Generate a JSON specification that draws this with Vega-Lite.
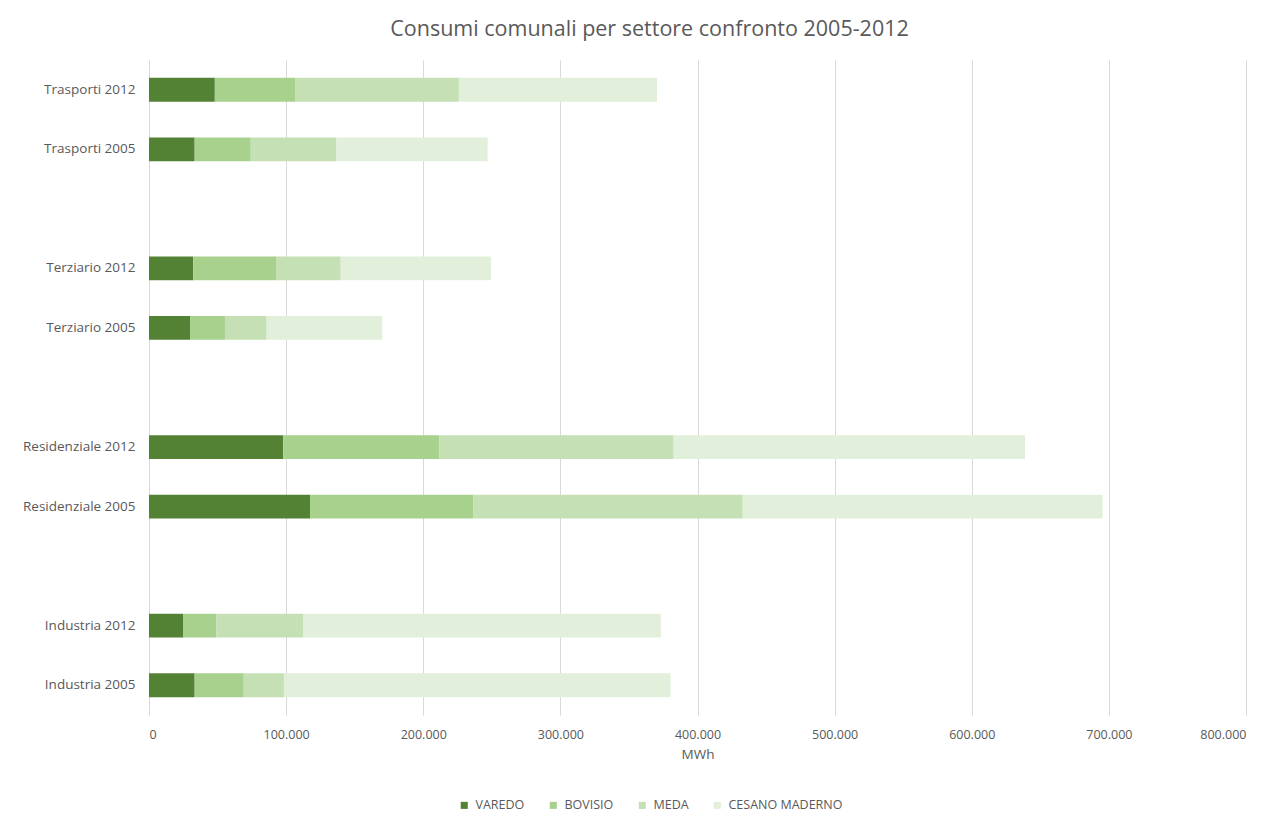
{
  "$schema": "https://vega.github.io/schema/vega-lite/v6.json",
  "width": 1097,
  "height": 655,
  "autosize": {"type": "none"},
  "padding": {"left": 149, "top": 60, "right": 30, "bottom": 99},
  "background": "white",
  "title": {
    "text": "Consumi comunali per settore confronto 2005-2012",
    "anchor": "middle",
    "frame": "group",
    "dx": -48,
    "offset": 20,
    "font": "Open Sans",
    "fontSize": 21.5,
    "fontWeight": "normal",
    "color": "#595959"
  },
  "config": {
    "view": {"stroke": null}
  },
  "data": {
    "values": [
      {"cat": "Trasporti 2012", "comune": "VAREDO", "ord": 1, "mwh": 48000},
      {"cat": "Trasporti 2012", "comune": "BOVISIO", "ord": 2, "mwh": 58500},
      {"cat": "Trasporti 2012", "comune": "MEDA", "ord": 3, "mwh": 119500},
      {"cat": "Trasporti 2012", "comune": "CESANO MADERNO", "ord": 4, "mwh": 144500},
      {"cat": "Trasporti 2005", "comune": "VAREDO", "ord": 1, "mwh": 33300},
      {"cat": "Trasporti 2005", "comune": "BOVISIO", "ord": 2, "mwh": 40900},
      {"cat": "Trasporti 2005", "comune": "MEDA", "ord": 3, "mwh": 62300},
      {"cat": "Trasporti 2005", "comune": "CESANO MADERNO", "ord": 4, "mwh": 110500},
      {"cat": "Terziario 2012", "comune": "VAREDO", "ord": 1, "mwh": 32300},
      {"cat": "Terziario 2012", "comune": "BOVISIO", "ord": 2, "mwh": 60800},
      {"cat": "Terziario 2012", "comune": "MEDA", "ord": 3, "mwh": 46700},
      {"cat": "Terziario 2012", "comune": "CESANO MADERNO", "ord": 4, "mwh": 109600},
      {"cat": "Terziario 2005", "comune": "VAREDO", "ord": 1, "mwh": 29900},
      {"cat": "Terziario 2005", "comune": "BOVISIO", "ord": 2, "mwh": 25500},
      {"cat": "Terziario 2005", "comune": "MEDA", "ord": 3, "mwh": 30400},
      {"cat": "Terziario 2005", "comune": "CESANO MADERNO", "ord": 4, "mwh": 84300},
      {"cat": "Residenziale 2012", "comune": "VAREDO", "ord": 1, "mwh": 97900},
      {"cat": "Residenziale 2012", "comune": "BOVISIO", "ord": 2, "mwh": 113900},
      {"cat": "Residenziale 2012", "comune": "MEDA", "ord": 3, "mwh": 170800},
      {"cat": "Residenziale 2012", "comune": "CESANO MADERNO", "ord": 4, "mwh": 256200},
      {"cat": "Residenziale 2005", "comune": "VAREDO", "ord": 1, "mwh": 117400},
      {"cat": "Residenziale 2005", "comune": "BOVISIO", "ord": 2, "mwh": 119300},
      {"cat": "Residenziale 2005", "comune": "MEDA", "ord": 3, "mwh": 196300},
      {"cat": "Residenziale 2005", "comune": "CESANO MADERNO", "ord": 4, "mwh": 262400},
      {"cat": "Industria 2012", "comune": "VAREDO", "ord": 1, "mwh": 24800},
      {"cat": "Industria 2012", "comune": "BOVISIO", "ord": 2, "mwh": 24400},
      {"cat": "Industria 2012", "comune": "MEDA", "ord": 3, "mwh": 63500},
      {"cat": "Industria 2012", "comune": "CESANO MADERNO", "ord": 4, "mwh": 260500},
      {"cat": "Industria 2005", "comune": "VAREDO", "ord": 1, "mwh": 33300},
      {"cat": "Industria 2005", "comune": "BOVISIO", "ord": 2, "mwh": 35800},
      {"cat": "Industria 2005", "comune": "MEDA", "ord": 3, "mwh": 29300},
      {"cat": "Industria 2005", "comune": "CESANO MADERNO", "ord": 4, "mwh": 281900}
    ]
  },
  "mark": {"type": "bar"},
  "encoding": {
    "y": {
      "field": "cat",
      "type": "nominal",
      "scale": {
        "domain": ["Trasporti 2012", "Trasporti 2005", "gap1", "Terziario 2012", "Terziario 2005", "gap2", "Residenziale 2012", "Residenziale 2005", "gap3", "Industria 2012", "Industria 2005"],
        "paddingInner": 0.6,
        "paddingOuter": 0.3
      },
      "axis": {
        "title": null,
        "domain": false,
        "ticks": false,
        "grid": false,
        "labelExpr": "indexof(datum.label, 'gap') == 0 ? '' : datum.label",
        "labelFont": "Open Sans",
        "labelFontSize": 13.5,
        "labelColor": "#595959",
        "labelPadding": 14
      }
    },
    "x": {
      "field": "mwh",
      "type": "quantitative",
      "stack": "zero",
      "scale": {"domain": [0, 800000], "nice": false},
      "axis": {
        "title": "MWh",
        "titleFont": "Open Sans",
        "titleFontSize": 13.5,
        "titleFontWeight": "normal",
        "titleColor": "#595959",
        "titlePadding": 7,
        "values": [0, 100000, 200000, 300000, 400000, 500000, 600000, 700000, 800000],
        "labelExpr": "replace(format(datum.value, ','), ',', '.')",
        "domain": false,
        "ticks": false,
        "grid": true,
        "gridColor": "#d9d9d9",
        "gridWidth": 1,
        "labelFont": "Open Sans",
        "labelFontSize": 12.5,
        "labelColor": "#595959",
        "labelPadding": 13
      }
    },
    "color": {
      "field": "comune",
      "type": "nominal",
      "scale": {
        "domain": ["VAREDO", "BOVISIO", "MEDA", "CESANO MADERNO"],
        "range": ["#548235", "#a9d18e", "#c5e0b4", "#e2efda"]
      },
      "legend": {
        "title": null,
        "orient": "none",
        "direction": "horizontal",
        "legendX": 309,
        "legendY": 739,
        "symbolType": "square",
        "symbolSize": 50,
        "symbolStrokeWidth": 0,
        "labelFont": "Open Sans",
        "labelFontSize": 12.5,
        "labelColor": "#595959",
        "columnPadding": 22,
        "labelOffset": 5
      }
    },
    "order": {"field": "ord", "type": "quantitative"}
  }
}
